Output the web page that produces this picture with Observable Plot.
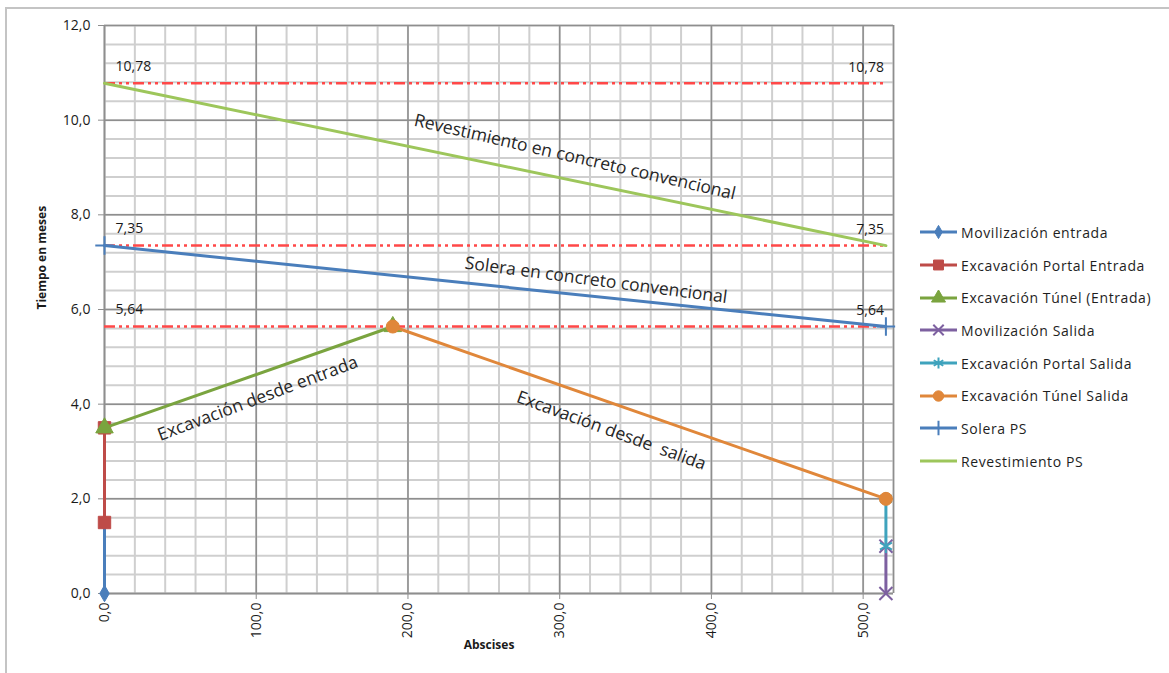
<!DOCTYPE html>
<html>
<head>
<meta charset="utf-8">
<script src="https://cdn.jsdelivr.net/npm/d3@7"></script>
<script src="https://cdn.jsdelivr.net/npm/@observablehq/plot@0.6"></script>
<style>
  html, body { margin: 0; padding: 0; background: #fff; }
  #wrap { position: relative; width: 1169px; height: 673px; overflow: hidden; font-family: "Open Sans", "Liberation Sans", sans-serif; }
  #frameTop { position: absolute; left: 5px; top: 7px; width: 1164px; height: 2px; background: #c4c4c4; }
  #frameLeft { position: absolute; left: 5px; top: 7px; width: 2px; height: 666px; background: #c4c4c4; }
  #chart { position: absolute; left: 0; top: 0; }
  #legend { position: absolute; left: 918px; top: 216px; }
  .item { display: flex; align-items: center; height: 32.7px; font-size: 14px; letter-spacing: 0.6px; color: #1e1e1e; white-space: nowrap; }
  .item svg { margin-right: 3px; }
</style>
</head>
<body>
<div id="wrap">
  <div id="frameTop"></div>
  <div id="frameLeft"></div>
  <div id="chart"></div>
  <div id="legend"></div>
</div>
<script>
// Abscisa (m) y tiempo (meses) de cada actividad
const seriesNames = [
  "Movilización entrada",
  "Excavación Portal Entrada",
  "Excavación Túnel (Entrada)",
  "Movilización Salida",
  "Excavación Portal Salida",
  "Excavación Túnel Salida",
  "Solera PS",
  "Revestimiento PS"
];
const movEntradaX = [0, 0],       movEntradaY = [0, 1.5];
const portalEntradaX = [0, 0],    portalEntradaY = [1.5, 3.5];
const tunelEntradaX = [0, 190],   tunelEntradaY = [3.5, 5.64];
const movSalidaX = [515, 515],    movSalidaY = [0, 1.0];
const portalSalidaX = [515, 515], portalSalidaY = [1.0, 2.0];
const tunelSalidaX = [515, 190],  tunelSalidaY = [2.0, 5.64];
const soleraX = [0, 515],         soleraY = [7.35, 5.64];
const revestX = [0, 515],         revestY = [10.78, 7.35];

// Niveles de referencia (fin de cada etapa)
const refLevels = [10.78, 7.35, 5.64];

// Rótulos de ejes
const xTicks = [0, 100, 200, 300, 400, 500];
const yTicks = [0, 2, 4, 6, 8, 10, 12];
const xTitle = "Abscises";
const yTitle = "Tiempo en meses";

// Apariencia de cada serie
const seriesColors = ["#4a7ebb", "#be4b48", "#7aa43f", "#7d60a0", "#3fa3bd", "#e0873a", "#4a7ebb", "#9dc65b"];
const seriesSymbols = ["diamond", "square", "triangle", "times", "asterisk", "circle", "plus", null];
const symbolR = {diamond: 5, square: 7, triangle: 6.5, times: 6, asterisk: 6.5, circle: 6.5, plus: 6};
const strokeSymbols = new Set(["times", "asterisk", "plus"]);

const xs = [movEntradaX, portalEntradaX, tunelEntradaX, movSalidaX, portalSalidaX, tunelSalidaX, soleraX, revestX];
const ys = [movEntradaY, portalEntradaY, tunelEntradaY, movSalidaY, portalSalidaY, tunelSalidaY, soleraY, revestY];
const series = seriesNames.map((name, i) => ({
  name,
  color: seriesColors[i],
  symbol: seriesSymbols[i],
  points: xs[i].map((x, j) => ({x, y: ys[i][j]}))
}));

const fmt = d => d.toFixed(1).replace(".", ",");
const fmt2 = d => d.toFixed(2).replace(".", ",");
const xEnd = d3.max(soleraX);

// Rótulos inclinados sobre cada tramo
const notes = [
  {text: "Revestimiento en concreto convencional", x: 310, y: 9.22, angle: 13},
  {text: "Solera en concreto convencional", x: 324, y: 6.62, angle: 7.5},
  {text: "Excavación desde entrada", x: 101, y: 4.12, angle: -20.5},
  {text: "Excavación desde  salida", x: 334, y: 3.44, angle: 20}
];

const minorX = d3.range(0, 27).map(i => i * 20);
const minorY = d3.range(0, 31).map(i => +(i * 0.4).toFixed(1));

const seriesMarks = series.flatMap(s => {
  const marks = [Plot.line(s.points, {x: "x", y: "y", stroke: s.color, strokeWidth: 3})];
  if (s.symbol) {
    const isStroke = strokeSymbols.has(s.symbol);
    marks.push(Plot.dot(s.points, {
      x: "x", y: "y", symbol: s.symbol, r: symbolR[s.symbol],
      fill: isStroke ? "none" : s.color,
      stroke: s.color,
      strokeWidth: isStroke ? 2 : 1
    }));
  }
  return marks;
});

const chart = Plot.plot({
  width: 905,
  height: 673,
  marginLeft: 104,
  marginTop: 25,
  marginRight: 12,
  marginBottom: 80,
  x: {domain: [0, 520], label: null},
  y: {domain: [0, 12], label: null},
  style: {fontFamily: "'Open Sans', 'Liberation Sans', sans-serif", fontSize: "13px", color: "#1a1a1a", background: "transparent", overflow: "visible"},
  marks: [
    Plot.gridX(minorX, {stroke: "#cfcfcf", strokeOpacity: 1, strokeWidth: 2}),
    Plot.gridY(minorY, {stroke: "#cfcfcf", strokeOpacity: 1, strokeWidth: 2}),
    Plot.gridX(xTicks.concat([520]), {stroke: "#8e8e8e", strokeOpacity: 1, strokeWidth: 1.5}),
    Plot.gridY(yTicks, {stroke: "#8e8e8e", strokeOpacity: 1, strokeWidth: 1.5}),
    Plot.axisY(yTicks, {tickFormat: fmt, tickSize: 6, tickPadding: 8, stroke: "#8e8e8e", fontSize: 14, label: null}),
    Plot.axisX(xTicks, {tickFormat: fmt, tickSize: 6, tickPadding: 3, tickRotate: -90, stroke: "#8e8e8e", fontSize: 14, label: null}),
    Plot.ruleX([0], {stroke: "#8e8e8e", strokeWidth: 1.5}),
    Plot.ruleY([0], {stroke: "#8e8e8e", strokeWidth: 1.5}),
    // líneas de referencia
    Plot.ruleY(refLevels, {y: d => d, x1: 0, x2: xEnd, stroke: "#ff4848", strokeWidth: 2.5, strokeDasharray: "11 4 3 4 3 4"}),
    Plot.text(refLevels, {x: 0, y: d => d, text: fmt2, textAnchor: "start", dx: 11, dy: -17, fontSize: 14}),
    Plot.text(refLevels, {x: xEnd, y: d => d, text: fmt2, textAnchor: "end", dx: -2, dy: -16, fontSize: 14}),
    ...seriesMarks,
    Plot.text(notes, {x: "x", y: "y", text: "text", rotate: "angle", fontSize: 17.5, fill: "#262626"}),
    Plot.text([yTitle], {frameAnchor: "left", rotate: -90, dx: -62, fontSize: 12, fontWeight: "bold"}),
    Plot.text([xTitle], {frameAnchor: "bottom", dx: -10, dy: 55, fontSize: 12, fontWeight: "bold"})
  ]
});
document.getElementById("chart").appendChild(chart);

// Leyenda
const legend = d3.select("#legend");
series.forEach(s => {
  const row = legend.append("div").attr("class", "item");
  const svg = row.append("svg").attr("width", 40).attr("height", 16);
  svg.append("line").attr("x1", 2).attr("x2", 39).attr("y1", 8).attr("y2", 8)
    .attr("stroke", s.color).attr("stroke-width", 3);
  if (s.symbol) {
    const isStroke = strokeSymbols.has(s.symbol);
    const sym = {
      diamond: d3.symbolDiamond, square: d3.symbolSquare, triangle: d3.symbolTriangle,
      times: d3.symbolTimes, asterisk: d3.symbolAsterisk, circle: d3.symbolCircle, plus: d3.symbolPlus
    }[s.symbol];
    const r = symbolR[s.symbol] * 0.8;
    svg.append("path").attr("transform", "translate(20.5,8)")
      .attr("d", d3.symbol(sym, Math.PI * r * r)())
      .attr("fill", isStroke ? "none" : s.color)
      .attr("stroke", s.color).attr("stroke-width", isStroke ? 2 : 1);
  }
  row.append("span").text(s.name);
});
</script>
</body>
</html>
